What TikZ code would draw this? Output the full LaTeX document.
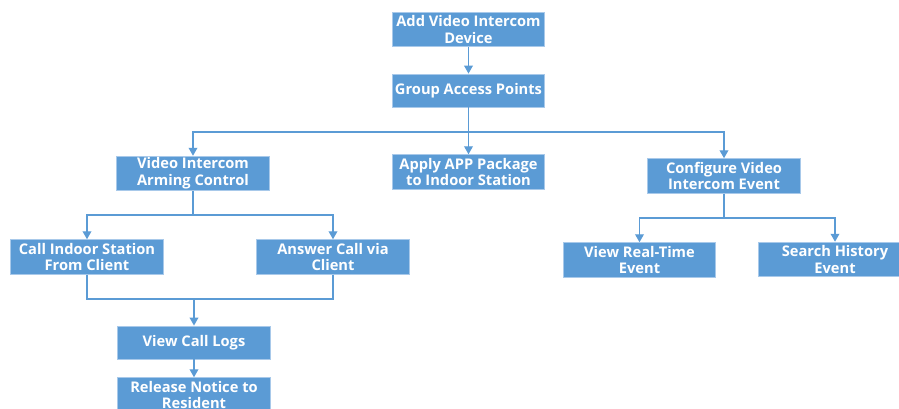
\documentclass[tikz,border=0pt]{standalone}
\usepackage{fontspec}
\setmainfont{Open Sans}
\usetikzlibrary{arrows.meta}
\definecolor{boxblue}{HTML}{5B9BD5}
\definecolor{edgeblue}{HTML}{A8C9EA}
\tikzset{
  px/.style={x={(0.75pt,0)},y={(0,-0.75pt)}},
  stepbox/.style={rectangle, fill=boxblue, draw=edgeblue, line width=0.6pt,
    text=white, font=\bfseries\fontsize{11}{12.5}\selectfont, align=center,
    minimum width=114.5pt, minimum height=26pt, inner sep=1pt},
  conn/.style={draw=boxblue, line width=1.1pt},
  arr/.style={conn, -{Triangle[length=6pt,width=6.5pt]}}
}
\begin{document}
\begin{tikzpicture}[px]
\useasboundingbox (0,0) rectangle (899,409);
\clip (0,0) rectangle (899,409);
\node[stepbox] (add) at (468.5,29.5) {Add Video Intercom\\Device};
\node[stepbox, minimum height=24.75pt] (group) at (468.5,90.5) {Group Access Points};
\node[stepbox] (apply) at (468.5,172) {Apply APP Package\\to Indoor Station};
\node[stepbox] (arm) at (193,173.5) {Video Intercom\\Arming Control};
\node[stepbox] (config) at (724,176) {Configure Video\\Intercom Event};
\node[stepbox] (callin) at (87,257) {Call Indoor Station\\From Client};
\node[stepbox] (answer) at (333,257) {Answer Call via\\Client};
\node[stepbox, minimum height=24.75pt] (logs) at (194,342.5) {View Call Logs};
\node[stepbox] (release) at (194,395) {Release Notice to\\Resident};
\node[stepbox] (realtime) at (639.5,260) {View Real-Time\\Event};
\node[stepbox] (search) at (835,259.5) {Search History\\Event};
\coordinate (b1) at (468.5,132);
\coordinate (b2) at (193,215);
\coordinate (b3) at (194,299);
\coordinate (b4) at (724,218);
\draw[arr] (add) -- (group);
\draw[arr] (group) -- (apply);
\draw[arr] (b1) -| (arm.north);
\draw[arr] (b1) -| (config.north);
\draw[conn] (arm.south) -- (b2);
\draw[arr] (b2) -| (callin.north);
\draw[arr] (b2) -| (answer.north);
\draw[conn] (callin.south) |- (b3);
\draw[conn] (answer.south) |- (b3);
\draw[arr] (b3) -- (logs.north);
\draw[arr] (logs) -- (release);
\draw[conn] (config.south) -- (b4);
\draw[arr] (b4) -| (realtime.north);
\draw[arr] (b4) -| (search.north);
\end{tikzpicture}
\end{document}
